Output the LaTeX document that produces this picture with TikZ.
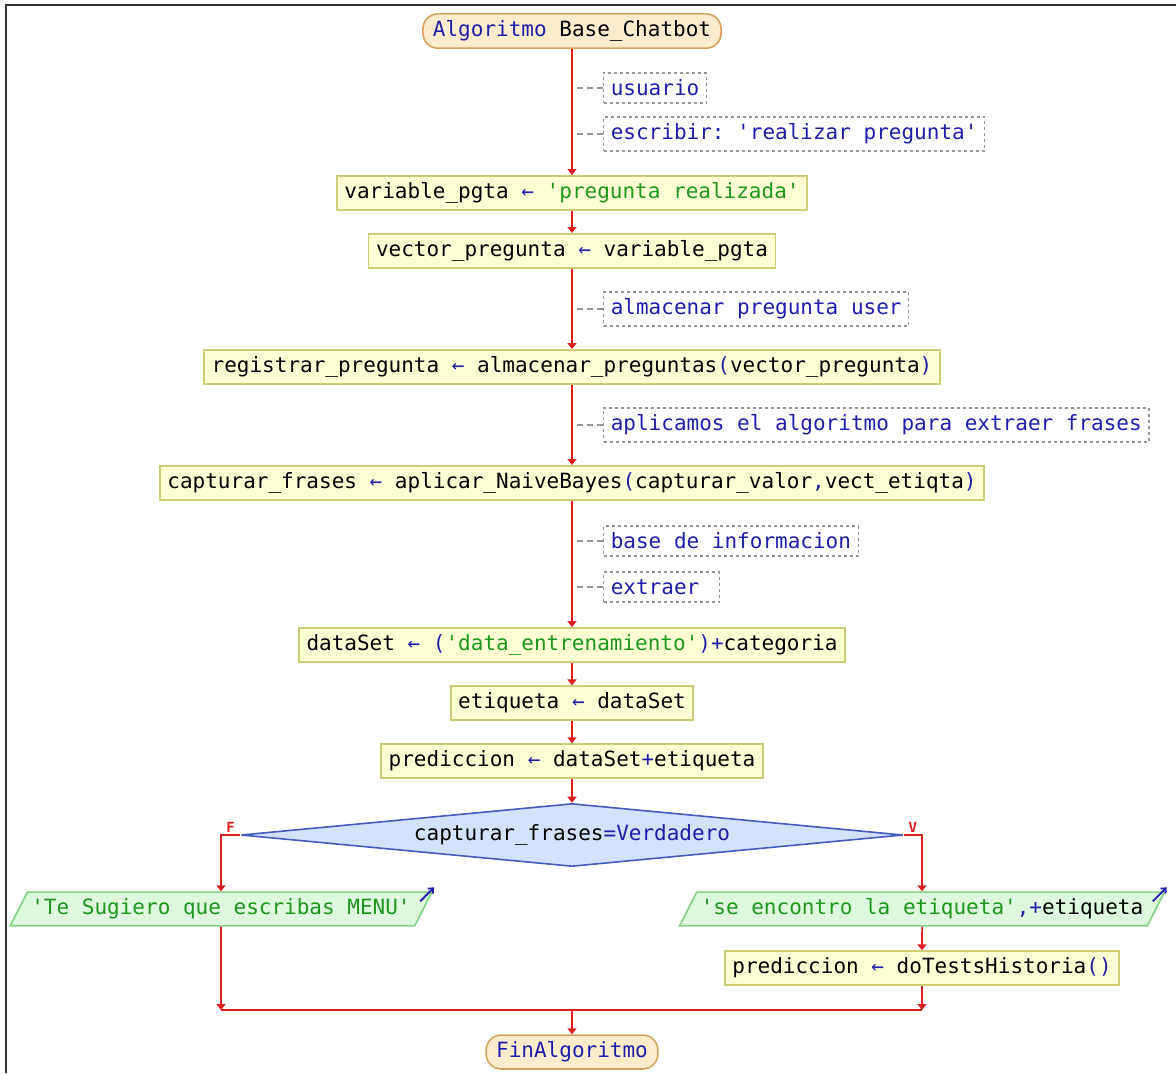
\documentclass[tikz,border=0pt]{standalone}
\usepackage{fontspec}
\setmonofont{DejaVu Sans Mono}
\usetikzlibrary{shapes.geometric,arrows.meta}

\definecolor{kwblue}{RGB}{30,30,170}
\definecolor{strgreen}{RGB}{30,150,30}
\definecolor{flowred}{RGB}{220,30,30}
\definecolor{cmtgray}{RGB}{150,150,150}
\definecolor{termfill}{RGB}{255,236,204}
\definecolor{termborder}{RGB}{212,162,92}
\definecolor{procfill}{RGB}{255,255,212}
\definecolor{procborder}{RGB}{205,205,120}
\definecolor{condfill}{RGB}{212,225,250}
\definecolor{condborder}{RGB}{70,90,190}
\definecolor{outfill}{RGB}{222,250,222}
\definecolor{outborder}{RGB}{130,210,130}

\newcommand{\kwd}[1]{\textcolor{kwblue}{#1}}
\newcommand{\strg}[1]{\textcolor{strgreen}{#1}}
\newcommand{\asg}{\kwd{←}}

\begin{document}
\begin{tikzpicture}[
      x=0.5pt, y=-0.5pt,
      every node/.style={font=\ttfamily\fontsize{10.5}{12}\selectfont},
      term/.style={draw=termborder, fill=termfill, line width=0.8pt, rounded corners=7.5pt, minimum height=15pt, inner xsep=5pt},
      proc/.style={draw=procborder, fill=procfill, line width=0.8pt, minimum height=16pt, inner xsep=3.7pt},
      cmt/.style={draw=cmtgray, dash pattern=on 1.5pt off 1.5pt, line width=0.6pt, minimum height=15pt, inner xsep=3.6pt, anchor=west, text=kwblue},
      cmtline/.style={draw=cmtgray, dash pattern=on 3pt off 2pt, line width=0.6pt},
      outp/.style={trapezium, trapezium left angle=63, trapezium right angle=117, trapezium stretches=true, draw=outborder, fill=outfill, line width=0.8pt, minimum height=16pt, inner xsep=2pt},
      cond/.style={diamond, aspect=10, inner sep=0pt, draw=condborder, fill=condfill, line width=0.8pt, minimum width=331pt, minimum height=31.5pt},
      flowline/.style={draw=flowred, line width=0.8pt},
      flow/.style={flowline, -{Triangle[length=3pt,width=4.5pt]}},
      outarr/.style={draw=kwblue, line width=0.9pt, -{Straight Barb[length=2pt,width=3.5pt]}},
      lbl/.style={font=\ttfamily\bfseries\fontsize{7}{8}\selectfont, text=flowred, inner sep=1pt},
    ]

    \useasboundingbox (0,0) rectangle (1176,1073);
    \draw[line width=1pt, black!80] (6,1073) -- (6,5) -- (1176,5);

    \node[term] (inicio) at (572,31) {\kwd{Algoritmo} Base\_Chatbot};
    \node[cmt] (c1) at (603,88) {usuario};
    \node[cmt] (c2) at (603,134) {escribir: 'realizar pregunta'};
    \node[proc] (b1) at (572,193) {variable\_pgta \asg{} \strg{'pregunta realizada'}};
    \node[proc] (b2) at (572,251) {vector\_pregunta \asg{} variable\_pgta};
    \node[cmt] (c3) at (603,309) {almacenar pregunta user};
    \node[proc] (b3) at (572,367) {registrar\_pregunta \asg{} almacenar\_preguntas\kwd{(}vector\_pregunta\kwd{)}};
    \node[cmt] (c4) at (603,425) {aplicamos el algoritmo para extraer frases};
    \node[proc] (b4) at (572,483) {capturar\_frases \asg{} aplicar\_NaiveBayes\kwd{(}capturar\_valor\kwd{,}vect\_etiqta\kwd{)}};
    \node[cmt] (c5) at (603,541) {base de informacion};
    \node[cmt] (c6) at (603,587) {extraer\hphantom{x}};
    \node[proc] (b5) at (572,645) {dataSet \asg{} \kwd{(}\strg{'data\_entrenamiento'}\kwd{)+}categoria};
    \node[proc] (b6) at (572,703) {etiqueta \asg{} dataSet};
    \node[proc] (b7) at (572,761) {prediccion \asg{} dataSet\kwd{+}etiqueta};
    \node[cond] (dia) at (572,835) {capturar\_frases\kwd{=Verdadero}};
    \node[outp] (o1) at (221,909) {\strg{'Te Sugiero que escribas MENU'}};
    \node[outp] (o2) at (922,909) {\strg{'se encontro la etiqueta'}\kwd{,+}etiqueta};
    \node[proc] (b8) at (922,968) {prediccion \asg{} doTestsHistoria\kwd{()}};
    \node[term] (fin) at (572,1052) {\kwd{FinAlgoritmo}};

    \coordinate (jl) at (221,1010);
    \coordinate (jr) at (922,1010);

    \foreach \c in {c1,c2,c3,c4,c5,c6}
      \draw[cmtline] (\c.west) -- ++(-26,0);

    \draw[flow] (inicio) -- (b1);
    \draw[flow] (b1) -- (b2);
    \draw[flow] (b2) -- (b3);
    \draw[flow] (b3) -- (b4);
    \draw[flow] (b4) -- (b5);
    \draw[flow] (b5) -- (b6);
    \draw[flow] (b6) -- (b7);
    \draw[flow] (b7) -- (dia);
    \draw[flow] (dia.west) -| node[lbl, pos=0.25, above] (lf) {F} (o1.north);
    \draw[flow] (dia.east) -| node[lbl, pos=0.25, above] (lv) {V} (o2.north);
    \draw[flow] (o2) -- (b8);
    \draw[flow] (o1) -- (jl);
    \draw[flow] (b8) -- (jr);
    \draw[flowline] (jl) -- (jr);
    \draw[flow] (jl -| fin) -- (fin);

    \draw[outarr] ([shift={(-13,10)}]o1.top right corner) -- ([shift={(1,-4)}]o1.top right corner);
    \draw[outarr] ([shift={(-13,10)}]o2.top right corner) -- ([shift={(1,-4)}]o2.top right corner);

  \end{tikzpicture}
\end{document}
